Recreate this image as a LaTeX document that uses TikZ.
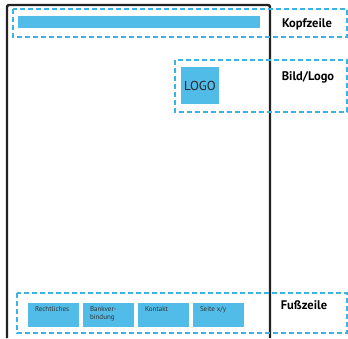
\documentclass[tikz,border=0pt]{standalone}
\usepackage{fontspec}
\setmainfont{PT Sans}
\definecolor{bl}{HTML}{52BCE8}
\definecolor{dsh}{HTML}{3DB2E3}
\definecolor{frm}{HTML}{222222}
\begin{document}
\begin{tikzpicture}[x=1pt,y=-1pt,
  zone/.style={draw=dsh,line width=2pt,dash pattern=on 5pt off 3pt},
  fill box/.style={fill=bl,draw=none},
  lbl/.style={font=\bfseries\fontsize{12.5}{14}\selectfont,text=black},
  foot/.style={fill box,minimum width=51pt,minimum height=24pt,inner sep=0pt},
  foottxt/.style={anchor=north west,font=\fontsize{7}{8.5}\selectfont,align=left,inner sep=0pt,text=black!80}]
\useasboundingbox (0,0) rectangle (348,339);
% page frame
\draw[frm,line width=2.4pt,rounded corners=2pt] (7,338) -- (7,5) -- (270,5) -- (270,338);
% header
\node[fill box,minimum width=242pt,minimum height=12pt,inner sep=0pt] (hbar) at (139,22) {};
\draw[zone] (13,9) rectangle (347,37);
\node[lbl] (kopf) at (307,24) {Kopfzeile};
% logo
\node[fill box,minimum width=38pt,minimum height=37pt,inner sep=0pt,font=\fontsize{13}{15}\selectfont,text=black!85] (logo) at (200,85.5) {LOGO};
\draw[zone] (175,60) rectangle (347,112);
\node[lbl] (bild) at (308,77) {Bild/Logo};
% footer
\draw[zone] (17,293) rectangle (347,333);
\node[foot] (f1) at (53.5,315) {};
\node[foot] (f2) at (108.5,315) {};
\node[foot] (f3) at (163.5,315) {};
\node[foot] (f4) at (218.5,315) {};
\node[foottxt] (t1) at ([xshift=7pt,yshift=-3.5pt]f1.north west) {Rechtliches};
\node[foottxt] (t2) at ([xshift=7pt,yshift=-3.5pt]f2.north west) {Bankver-\\bindung};
\node[foottxt] (t3) at ([xshift=7pt,yshift=-3.5pt]f3.north west) {Kontakt};
\node[foottxt] (t4) at ([xshift=7pt,yshift=-3.5pt]f4.north west) {Seite x/y};
\node[lbl] (fuss) at (304,305) {Fußzeile};
\end{tikzpicture}
\end{document}
